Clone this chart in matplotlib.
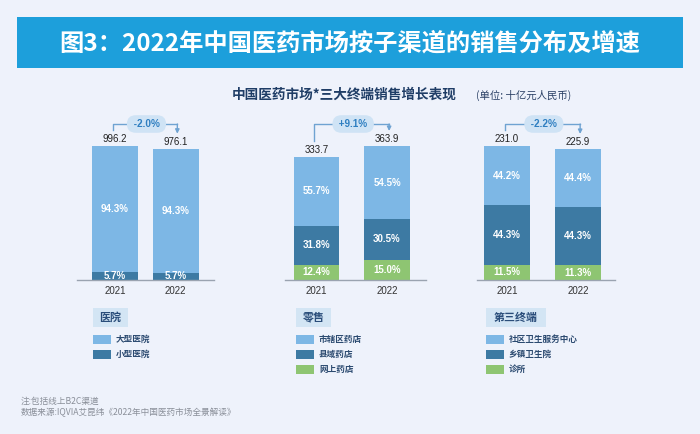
import matplotlib
matplotlib.use("Agg")
import matplotlib.pyplot as plt
from matplotlib.patches import Rectangle

# ---------------- data ----------------
years = ["2021", "2022"]

hosp_totals = [996.2, 976.1]
hosp_large = [94.3, 94.3]
hosp_small = [5.7, 5.7]

retail_totals = [333.7, 363.9]
retail_city = [55.7, 54.5]
retail_county = [31.8, 30.5]
retail_online = [12.4, 15.0]

third_totals = [231.0, 225.9]
third_community = [44.2, 44.4]
third_township = [44.3, 44.3]
third_clinic = [11.5, 11.3]

growth = ["-2.0%", "+9.1%", "-2.2%"]

group_names = ["医院", "零售", "第三终端"]
hosp_labels = ["大型医院", "小型医院"]
retail_labels = ["市辖区药店", "县域药店", "网上药店"]
third_labels = ["社区卫生服务中心", "乡镇卫生院", "诊所"]

title = "图3：2022年中国医药市场按子渠道的销售分布及增速"
subtitle = "中国医药市场*三大终端销售增长表现"
unit = "(单位: 十亿元人民币)"
note1 = "注:包括线上B2C渠道"
note2 = "数据来源:IQVIA艾昆纬《2022年中国医药市场全景解读》"

# ---------------- style ----------------
BG = "#eef2fb"
LIGHT = "#7db7e5"
DARK = "#3d7aa3"
GREEN = "#8ec572"
ARROW = "#6fa3d2"
PILL = "#cfe3f5"
CJK = ["Noto Sans CJK SC", "DejaVu Sans"]
NUM = ["Liberation Sans", "DejaVu Sans"]

W, H = 700, 434
fig = plt.figure(figsize=(W / 100, H / 100), dpi=100, facecolor=BG)


def px_axes(x0, y0, x1, y1):
    return fig.add_axes([x0 / W, 1 - y1 / H, (x1 - x0) / W, (y1 - y0) / H])


def fx(x):
    return x / W


def fy(y):
    return 1 - y / H


# title banner
fig.patches.append(Rectangle((fx(17), fy(68)), fx(666), 51 / H,
                             transform=fig.transFigure, fc="#1d9fdb", ec="none"))
fig.text(fx(350), fy(43), title, ha="center", va="center", color="white",
         fontsize=17.5, fontweight="bold", family=CJK)

fig.text(fx(232), fy(95), subtitle, ha="left", va="center", color="#1f3d66",
         fontsize=9.8, fontweight="bold", family=CJK)
fig.text(fx(476), fy(95), unit, ha="left", va="center", color="#2b4166",
         fontsize=7.5, family=CJK)

AX_TOP, AX_BOT = 100, 280
AX_H = AX_BOT - AX_TOP
BAR_PX = 134  # pixel height of tallest bar

panels = [
    dict(x=(77, 214), xlim=(-0.628, 1.636), w=0.76, totals=hosp_totals,
         segs=[(hosp_small, DARK), (hosp_large, LIGHT)]),
    dict(x=(285, 426), xlim=(-0.447, 1.553), w=0.64, totals=retail_totals,
         segs=[(retail_online, GREEN), (retail_county, DARK), (retail_city, LIGHT)]),
    dict(x=(477, 615), xlim=(-0.42, 1.52), w=0.65, totals=third_totals,
         segs=[(third_clinic, GREEN), (third_township, DARK), (third_community, LIGHT)]),
]

for p, g in zip(panels, growth):
    ax = px_axes(p["x"][0], AX_TOP, p["x"][1], AX_BOT)
    ax.set_facecolor("none")
    totals = p["totals"]
    ytop = max(totals) * AX_H / BAR_PX
    d = ytop / AX_H  # data units per pixel
    ax.set_ylim(0, ytop)
    ax.set_xlim(*p["xlim"])
    xs = list(range(len(years)))
    bottoms = [0.0] * len(years)
    for shares, col in p["segs"]:
        hs = [t * s / 100 for t, s in zip(totals, shares)]
        ax.bar(xs, hs, bottom=bottoms, width=p["w"], color=col, edgecolor="none", zorder=2)
        for i in xs:
            ax.text(i, bottoms[i] + hs[i] / 2, f"{shares[i]:.1f}%", ha="center", va="center",
                    color="white", fontsize=7.0, fontweight="bold", family=NUM, zorder=3)
        bottoms = [b + h for b, h in zip(bottoms, hs)]
    for i in xs:
        ax.text(i, totals[i] + 7 * d, f"{totals[i]:.1f}", ha="center", va="center",
                color="#222222", fontsize=7.0, family=NUM)
    # growth bracket
    L = 156 * d
    y0 = totals[0] + 16 * d
    y1 = totals[1] + 15 * d
    ax.plot([xs[0] - 0.03, xs[0] - 0.03, xs[1] + 0.03], [y0, L, L], color=ARROW, lw=1.0,
            clip_on=False, zorder=1)
    ax.annotate("", xy=(xs[1] + 0.03, y1), xytext=(xs[1] + 0.03, L),
                arrowprops=dict(arrowstyle="-|>", color=ARROW, lw=1.0, shrinkA=0, shrinkB=0,
                                mutation_scale=6), annotation_clip=False)
    ax.text((xs[0] + xs[1]) / 2 + 0.02, L, " " + g + " ", ha="center", va="center",
            color="#2f7fc1", fontsize=7.2, fontweight="bold", family=NUM, zorder=5,
            bbox=dict(boxstyle="round,pad=0.38,rounding_size=0.9", fc=PILL, ec="none"))
    for s in ["top", "left", "right"]:
        ax.spines[s].set_visible(False)
    ax.spines["bottom"].set_color("#9aa3b0")
    ax.spines["bottom"].set_linewidth(1.0)
    ax.set_yticks([])
    ax.set_xticks(xs)
    ax.set_xticklabels(years, fontsize=7.0, color="#333333", family=NUM)
    ax.tick_params(axis="x", length=0, pad=4)

# legends
legend_x = [93, 296, 486]
box_w = [35, 35, 60]
legend_items = [
    [(hosp_labels[0], LIGHT), (hosp_labels[1], DARK)],
    [(retail_labels[0], LIGHT), (retail_labels[1], DARK), (retail_labels[2], GREEN)],
    [(third_labels[0], LIGHT), (third_labels[1], DARK), (third_labels[2], GREEN)],
]
for lx, bw, name, items in zip(legend_x, box_w, group_names, legend_items):
    fig.patches.append(Rectangle((fx(lx), fy(327)), bw / W, 19 / H,
                                 transform=fig.transFigure, fc="#d3e5f4", ec="none"))
    fig.text(fx(lx + bw / 2), fy(317.5), name, ha="center", va="center",
             color="#2a4d7a", fontsize=7.9, fontweight="bold", family=CJK)
    for k, (lab, col) in enumerate(items):
        yc = 339 + 15 * k
        fig.patches.append(Rectangle((fx(lx), fy(yc + 4.5)), 18 / W, 9 / H,
                                     transform=fig.transFigure, fc=col, ec="none"))
        fig.text(fx(lx + 23), fy(yc), lab, ha="left", va="center",
                 color="#2b4a70", fontsize=6.2, fontweight="bold", family=CJK)

fig.text(fx(21), fy(401), note1, ha="left", va="center", color="#8a8f99",
         fontsize=6.2, family=CJK)
fig.text(fx(21), fy(412.5), note2, ha="left", va="center", color="#8a8f99",
         fontsize=6.2, family=CJK)

fig.savefig("out.png", dpi=100, facecolor=BG)
